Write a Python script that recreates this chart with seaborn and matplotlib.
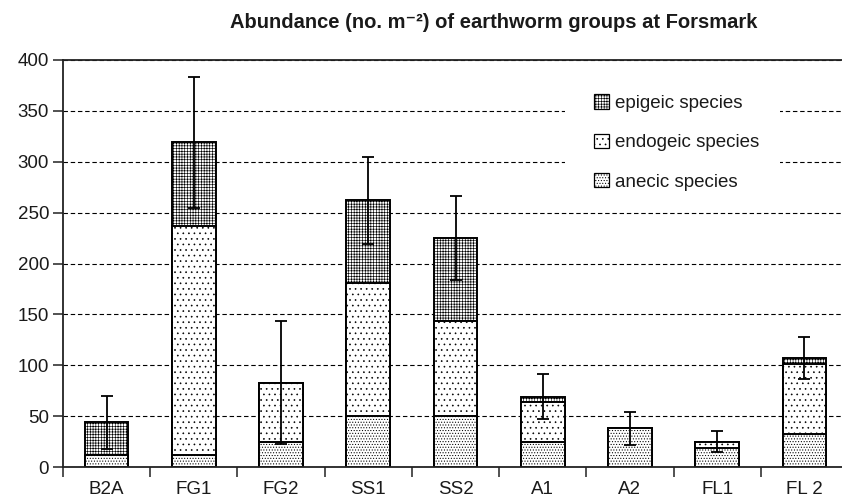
import matplotlib
matplotlib.use("Agg")
import matplotlib.pyplot as plt
from matplotlib.patches import Patch, Rectangle
from matplotlib.ticker import FixedLocator, NullFormatter
import numpy as np
import pandas as pd
import seaborn as sns

sites = ["B2A", "FG1", "FG2", "SS1", "SS2", "A1", "A2", "FL1", "FL 2"]
anecic = [12, 12, 25, 50, 50, 25, 38, 19, 32]
endogeic = [0, 225, 58, 131, 93, 39, 0, 6, 69]
epigeic = [32, 82, 0, 81, 82, 5, 0, 0, 6]
errors = [26, 64, 60, 43, 41, 22, 16.5, 10, 21]
yticks = [0, 50, 100, 150, 200, 250, 300, 350, 400]
labels = ["epigeic species", "endogeic species", "anecic species"]

sns.set_theme(style="white")
plt.rcParams["font.family"] = ["Liberation Sans", "DejaVu Sans"]
plt.rcParams["hatch.linewidth"] = 0.45

an = np.array(anecic, dtype=float)
en = np.array(endogeic, dtype=float)
ep = np.array(epigeic, dtype=float)
total = an + en + ep
mid = an + en

df = pd.DataFrame({"site": sites, "total": total, "mid": mid, "anecic": an})

fig = plt.figure(figsize=(8.42, 4.99), dpi=100)
L, R, T, B = 63, 848, 60, 467
ax = fig.add_axes([L / 842, 1 - B / 499, (R - L) / 842, (B - T) / 499])

hatches = {"total": "++++++", "mid": "...", "anecic": "......"}
for col in ["total", "mid", "anecic"]:
    n0 = len(ax.patches)
    sns.barplot(data=df, x="site", y=col, color="white", saturation=1,
                edgecolor="black", linewidth=1.4, width=0.5, ax=ax, zorder=2)
    for p in ax.patches[n0:]:
        p.set_hatch(hatches[col])

ax.errorbar(np.arange(len(sites)), total, yerr=errors, fmt="none",
            ecolor="black", elinewidth=1.3, capsize=4, capthick=1.3, zorder=4)

ax.set_xlim(-0.5, len(sites) - 0.5)
ax.set_ylim(0, 400)
ax.set_yticks(yticks)
ax.set_xlabel("")
ax.set_ylabel("")
ax.yaxis.grid(True, linestyle=(0, (4, 2.5)), color="black", linewidth=0.8)
ax.set_axisbelow(True)

for s in ["left", "bottom", "top"]:
    ax.spines[s].set_visible(True)
    ax.spines[s].set_color("#222222")
    ax.spines[s].set_linewidth(1.3)
ax.spines["right"].set_visible(False)

ax.tick_params(axis="y", which="major", left=True, length=7, width=1.1,
               color="#222222", labelsize=13.5, pad=3, labelcolor="#1a1a1a")
ax.tick_params(axis="x", which="major", bottom=False, labelsize=13.5, pad=4,
               labelcolor="#1a1a1a")
ax.xaxis.set_minor_locator(FixedLocator(np.arange(-0.5, len(sites), 1.0)))
ax.xaxis.set_minor_formatter(NullFormatter())
ax.tick_params(axis="x", which="minor", bottom=True, length=7, width=1.1,
               color="#222222")

# white area behind the legend
ax.add_patch(Rectangle(((565 - L) / (R - L), (B - 200) / (B - T)),
                       (780 - 565) / (R - L), (200 - 85) / (B - T),
                       transform=ax.transAxes, facecolor="white",
                       edgecolor="none", zorder=1))

handles = [Patch(facecolor="white", edgecolor="black", linewidth=0.9, hatch=h)
           for h in [hatches["total"], hatches["mid"], hatches["anecic"]]]
fig.legend(handles, labels, loc="upper left",
           bbox_to_anchor=(585 / 842, 1 - 85 / 499), frameon=False,
           fontsize=13.5, handlelength=0.8, handleheight=0.8,
           handletextpad=0.3, labelspacing=1.15, borderpad=0,
           labelcolor="#1a1a1a")

fig.text(494 / 842, 1 - 22 / 499,
         "Abundance (no. m\u207b\u00b2) of earthworm groups at Forsmark",
         ha="center", va="center", fontsize=14.5, fontweight="bold",
         color="#1a1a1a")

fig.savefig("out.png", dpi=100)
